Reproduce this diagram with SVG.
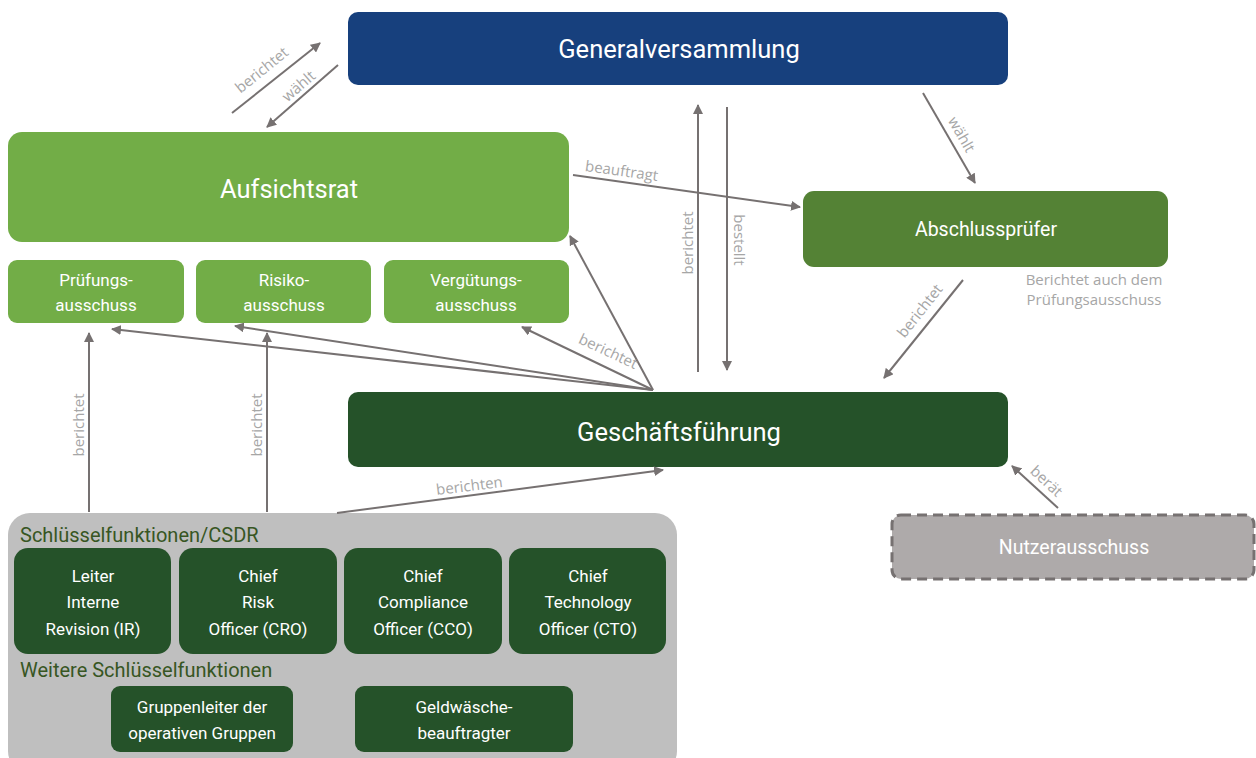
<svg xmlns="http://www.w3.org/2000/svg" width="1256" height="758" viewBox="0 0 1256 758">
<defs>
<marker id="ah" viewBox="0 0 10 10" refX="9" refY="5" markerWidth="10" markerHeight="10" markerUnits="userSpaceOnUse" orient="auto">
<path d="M0,0 L10,5 L0,10 z" fill="#767171"/>
</marker>
<style>
.big{font-family:Roboto,"Liberation Sans",sans-serif;font-size:25.5px;fill:#fff;text-anchor:middle}
.mid{font-family:Roboto,"Liberation Sans",sans-serif;font-size:17px;fill:#fff;text-anchor:middle}
.mid2{font-family:Roboto,"Liberation Sans",sans-serif;font-size:19.5px;fill:#fff;text-anchor:middle}
.hdr{font-family:Roboto,"Liberation Sans",sans-serif;font-size:20px;fill:#375623}
.lbl{font-family:"Open Sans","Liberation Sans",sans-serif;font-size:15px;fill:#a6a6a6;text-anchor:middle}
.con line{stroke:#767171;stroke-width:2;marker-end:url(#ah)}
</style>
</defs>
<rect width="1256" height="758" fill="#fff"/>

<g id="gv"><rect x="348" y="12" width="660" height="73" rx="10" fill="#17407d"/><text class="big" x="679" y="58">Generalversammlung</text></g>
<g id="ar"><rect x="8" y="132" width="561" height="110" rx="14" fill="#72ad47"/><text class="big" x="289" y="198">Aufsichtsrat</text></g>
<g id="pa"><rect x="8" y="260" width="176" height="63" rx="9" fill="#72ad47"/><text class="mid" x="96" y="286">Prüfungs-</text><text class="mid" x="96" y="311">ausschuss</text></g>
<g id="ra"><rect x="196" y="260" width="175" height="63" rx="9" fill="#72ad47"/><text class="mid" x="284" y="286">Risiko-</text><text class="mid" x="284" y="311">ausschuss</text></g>
<g id="va"><rect x="384" y="260" width="185" height="63" rx="9" fill="#72ad47"/><text class="mid" x="476" y="286">Vergütungs-</text><text class="mid" x="476" y="311">ausschuss</text></g>
<g id="ap"><rect x="803" y="191" width="365" height="76" rx="11" fill="#548235"/><text class="mid2" x="986" y="236">Abschlussprüfer</text></g>
<g id="gf"><rect x="348" y="392" width="660" height="75" rx="10" fill="#255229"/><text class="big" x="679" y="441">Geschäftsführung</text></g>
<g id="na"><rect x="892" y="515" width="362" height="64" rx="9" fill="#aeaaaa" stroke="#767171" stroke-width="3" stroke-dasharray="10,6"/><text class="mid2" x="1074" y="554">Nutzerausschuss</text></g>
<text class="lbl" x="1094" y="285">Berichtet auch dem</text>
<text class="lbl" x="1094" y="305">Prüfungsausschuss</text>

<g id="sf">
<rect x="8" y="513" width="669" height="260" rx="22" fill="#bfbfbf"/>
<text class="hdr" x="20" y="542">Schlüsselfunktionen/CSDR</text>
<text class="hdr" x="20" y="677">Weitere Schlüsselfunktionen</text>
</g>
<g id="ir"><rect x="14" y="548" width="157" height="106" rx="14" fill="#255229"/><text class="mid" x="93" y="582">Leiter</text><text class="mid" x="93" y="608">Interne</text><text class="mid" x="93" y="635">Revision (IR)</text></g>
<g id="cro"><rect x="179" y="548" width="158" height="106" rx="14" fill="#255229"/><text class="mid" x="258" y="582">Chief</text><text class="mid" x="258" y="608">Risk</text><text class="mid" x="258" y="635">Officer (CRO)</text></g>
<g id="cco"><rect x="344" y="548" width="158" height="106" rx="14" fill="#255229"/><text class="mid" x="423" y="582">Chief</text><text class="mid" x="423" y="608">Compliance</text><text class="mid" x="423" y="635">Officer (CCO)</text></g>
<g id="cto"><rect x="509" y="548" width="157" height="106" rx="14" fill="#255229"/><text class="mid" x="588" y="582">Chief</text><text class="mid" x="588" y="608">Technology</text><text class="mid" x="588" y="635">Officer (CTO)</text></g>
<g id="gl"><rect x="111" y="686" width="182" height="66" rx="9" fill="#255229"/><text class="mid" x="202" y="713">Gruppenleiter der</text><text class="mid" x="202" y="739">operativen Gruppen</text></g>
<g id="gw"><rect x="355" y="686" width="218" height="66" rx="9" fill="#255229"/><text class="mid" x="464" y="713">Geldwäsche-</text><text class="mid" x="464" y="739">beauftragter</text></g>

<g id="connectors" class="con">
<line x1="232" y1="113" x2="320" y2="43"/>
<line x1="338" y1="65" x2="267" y2="127"/>
<line x1="573" y1="175" x2="800" y2="207"/>
<line x1="698" y1="372" x2="698" y2="105"/>
<line x1="727" y1="107" x2="727" y2="370"/>
<line x1="923" y1="93" x2="975" y2="183"/>
<line x1="963" y1="280" x2="884" y2="378"/>
<line x1="653" y1="390" x2="570" y2="236"/>
<line x1="653" y1="390" x2="522" y2="327"/>
<line x1="653" y1="390" x2="235" y2="326"/>
<line x1="653" y1="390" x2="112" y2="329"/>
<line x1="89" y1="512" x2="89" y2="333"/>
<line x1="267" y1="512" x2="267" y2="333"/>
<line x1="337" y1="513" x2="663" y2="470"/>
<line x1="1058" y1="508" x2="1012" y2="466"/>
</g>
<g id="labels">
<text class="lbl" transform="translate(265,74) rotate(-39)">berichtet</text>
<text class="lbl" transform="translate(302,90) rotate(-41)">wählt</text>
<text class="lbl" transform="translate(621,176) rotate(8)">beauftragt</text>
<text class="lbl" transform="translate(693,243) rotate(-90)">berichtet</text>
<text class="lbl" transform="translate(734,240) rotate(90)">bestellt</text>
<text class="lbl" transform="translate(957,137) rotate(60)">wählt</text>
<text class="lbl" transform="translate(924,314) rotate(-52)">berichtet</text>
<text class="lbl" transform="translate(606,356) rotate(25)">berichtet</text>
<text class="lbl" transform="translate(84,425) rotate(-90)">berichtet</text>
<text class="lbl" transform="translate(262,425) rotate(-90)">berichtet</text>
<text class="lbl" transform="translate(470,491) rotate(-7)">berichten</text>
<text class="lbl" transform="translate(1043,485) rotate(43)">berät</text>
</g>
</svg>
